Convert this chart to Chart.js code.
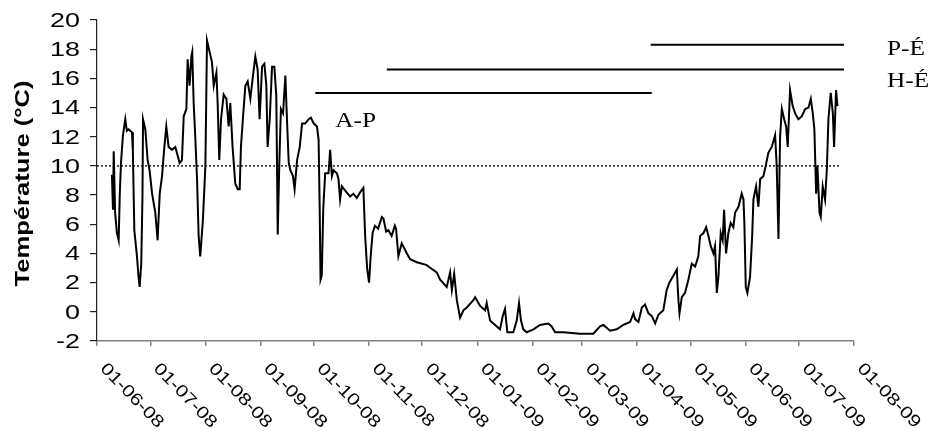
<!DOCTYPE html>
<html>
<head>
<meta charset="utf-8">
<script src="https://cdn.jsdelivr.net/npm/chart.js@4.4.1/dist/chart.umd.min.js"></script>
<style>
  html, body { margin: 0; padding: 0; background: #fff; }
</style>
</head>
<body>
<canvas id="tempChart" width="932" height="431"></canvas>
<script>
// Temperature record, x = days since 01-06-08
const days = [
  8.4, 9.0, 9.4, 10.2, 11.2, 12.2, 12.8, 13.5, 14.6, 15.9, 16.8, 17.8, 19.7, 20.2, 21.0, 22.5, 23.3, 24.0, 24.9, 25.6,
  25.9, 27.2, 28.5, 29.6, 31.0, 32.8, 34.1, 35.3, 36.6, 37.9, 39.0, 40.3, 42.2, 44.1, 46.5, 47.8, 48.8, 50.3, 51.0, 52.1,
  53.1, 53.6, 54.4, 55.3, 56.3, 57.2, 58.1, 59.6, 61.0, 61.9, 63.4, 64.7, 65.7, 67.2, 67.9, 68.8, 69.8, 71.3, 72.8, 74.1,
  75.0, 76.3, 77.8, 79.2, 80.3, 81.0, 82.2, 83.5, 84.8, 86.3, 87.8, 89.1, 90.4, 91.5, 92.9, 94.2, 95.3, 96.0, 97.2, 98.5,
  99.8, 100.9, 101.7, 102.6, 103.5, 104.7, 106.0, 106.9, 107.9, 108.8, 110.3, 111.2, 112.6, 114.1, 115.4, 117.2, 119.1, 120.4, 122.0, 123.8,
  124.7, 125.3, 125.8, 126.5, 127.3, 128.4, 130.3, 131.2, 132.2, 133.1, 135.0, 135.9, 136.8, 137.8, 139.7, 142.5, 144.3, 146.2, 148.1, 149.9,
  150.9, 152.0, 153.1, 154.0, 155.1, 156.4, 158.2, 160.3, 161.2, 162.7, 164.0, 165.8, 167.6, 168.3, 169.6, 171.5, 174.4, 176.2, 180.0, 185.6,
  186.5, 191.2, 193.1, 196.8, 198.7, 199.7, 201.0, 202.5, 204.3, 206.2, 208.1, 211.8, 212.8, 215.6, 218.4, 219.3, 221.2, 224.0, 226.8, 228.3,
  229.6, 230.9, 234.3, 236.2, 237.5, 238.6, 239.9, 241.8, 245.6, 249.3, 254.0, 255.9, 257.8, 262.4, 271.8, 279.3, 283.1, 285.0, 288.7, 292.5,
  296.2, 300.0, 301.9, 302.8, 304.7, 306.6, 308.4, 310.3, 312.2, 314.1, 315.9, 318.7, 320.6, 322.1, 324.0, 326.3, 327.2, 327.8, 329.1, 330.9,
  332.8, 334.7, 336.6, 338.4, 339.4, 341.3, 342.8, 344.1, 345.4, 346.9, 347.8, 348.8, 349.7, 351.0, 352.1, 352.9, 354.0, 355.3, 356.6, 358.1,
  359.1, 361.0, 362.8, 363.8, 364.3, 365.1, 366.0, 367.5, 368.7, 369.4, 370.9, 372.2, 373.2, 375.0, 376.3, 377.8, 379.7, 381.6, 382.5, 383.5,
  384.4, 385.4, 386.7, 387.8, 388.7, 390.0, 391.5, 392.9, 394.7, 396.6, 398.5, 400.4, 401.7, 402.8, 403.7, 404.7, 405.4, 406.6, 407.3, 408.4,
  409.7, 410.7, 411.6, 412.9, 414.1, 414.8, 415.9, 416.7
];
const temps = [
  9.4, 7.0, 11.0, 6.8, 5.4, 4.9, 8.0, 10.2, 12.1, 13.2, 12.4, 12.5, 12.3, 10.9, 5.6, 3.8, 2.5, 1.7, 3.3, 8.0,
  13.2, 12.5, 10.4, 9.7, 8.1, 6.8, 4.9, 8.1, 9.3, 11.3, 12.7, 11.3, 11.1, 11.3, 10.2, 10.4, 13.4, 13.9, 17.3, 15.5,
  17.5, 17.8, 14.3, 12.0, 9.1, 5.2, 3.8, 6.3, 10.0, 18.6, 17.8, 17.1, 15.5, 16.4, 14.3, 10.4, 13.2, 14.9, 14.6, 12.7,
  14.3, 11.3, 8.8, 8.4, 8.4, 11.3, 13.4, 15.5, 15.8, 14.6, 16.2, 17.5, 16.6, 13.2, 16.8, 17.0, 15.5, 11.3, 13.2, 16.8,
  16.8, 14.8, 5.3, 10.2, 13.9, 13.6, 16.2, 13.2, 10.2, 9.7, 9.3, 8.4, 10.4, 11.3, 12.9, 12.9, 13.2, 13.3, 12.9, 12.7,
  11.8, 7.2, 2.2, 2.5, 7.0, 9.5, 9.5, 11.1, 9.3, 9.7, 9.5, 9.1, 7.7, 8.6, 8.3, 7.9, 8.1, 7.8, 8.2, 8.5,
  5.2, 3.0, 2.0, 3.8, 5.4, 5.9, 5.7, 6.5, 6.4, 5.5, 5.6, 5.2, 5.9, 5.7, 3.8, 4.7, 4.0, 3.6, 3.4, 3.2,
  3.1, 2.7, 2.2, 1.7, 2.7, 1.5, 2.6, 0.8, -0.4, 0.1, 0.3, 0.8, 1.0, 0.4, 0.1, 0.6, -0.6, -0.9, -1.2, -0.3,
  0.2, -1.4, -1.4, -0.6, 0.6, -0.6, -1.2, -1.4, -1.2, -0.9, -0.8, -1.0, -1.4, -1.4, -1.5, -1.5, -1.0, -0.9, -1.3, -1.2,
  -0.9, -0.7, -0.1, -0.5, -0.7, 0.3, 0.5, -0.1, -0.3, -0.8, -0.2, 0.1, 1.5, 2.0, 2.4, 2.9, 0.8, -0.1, 1.0, 1.3,
  2.2, 3.3, 3.1, 3.8, 5.2, 5.4, 5.8, 5.2, 4.5, 4.0, 4.5, 1.3, 2.4, 5.4, 4.9, 7.0, 4.0, 5.4, 6.1, 5.8,
  6.8, 7.2, 8.1, 7.7, 6.1, 1.7, 1.3, 2.4, 5.2, 7.7, 8.6, 7.2, 9.1, 9.3, 10.0, 10.9, 11.3, 12.1, 10.0, 5.0,
  12.0, 13.9, 13.2, 12.7, 11.3, 15.2, 14.1, 13.6, 13.2, 13.4, 13.9, 14.0, 14.6, 13.6, 12.5, 8.1, 10.0, 6.8, 6.5, 8.6,
  7.7, 9.7, 13.2, 15.0, 13.6, 11.3, 15.2, 14.1
];

// x axis: first day of each month
const monthDays = [0, 30, 61, 92, 122, 153, 183, 214, 245, 273, 304, 334, 365, 395, 426];
const monthLabels = ['01-06-08', '01-07-08', '01-08-08', '01-09-08', '01-10-08', '01-11-08', '01-12-08',
  '01-01-09', '01-02-09', '01-03-09', '01-04-09', '01-05-09', '01-06-09', '01-07-09', '01-08-09'];

// dotted 10 °C reference
const refTemp = 10;
const refDays = [0, 418];

// period bars
const periodNames = ['A-P', 'H-É', 'P-É'];
const periodStart = [122.8, 163.1, 311.6];
const periodEnd = [312.2, 420.4, 420.4];
const periodLevel = [15.0, 16.6, 18.3];

const sx = 1.28; // the original text is drawn wide

const textPlugin = {
    id: 'axisText',
    afterDraw(chart) {
        const ctx = chart.ctx;
        const xs = chart.scales.x;
        const ys = chart.scales.y;
        ctx.save();
        ctx.fillStyle = '#000';

        // y tick labels
        ctx.font = '21px "Liberation Sans", Arial, sans-serif';
        ctx.textAlign = 'right';
        ctx.textBaseline = 'middle';
        ys.ticks.forEach(t => {
            ctx.save();
            ctx.translate(ys.right - 17, ys.getPixelForValue(t.value) + 1);
            ctx.scale(sx, 1);
            ctx.fillText(String(t.value), 0, 0);
            ctx.restore();
        });

        // x tick labels, slanted down to the right
        ctx.font = '17px "Liberation Sans", Arial, sans-serif';
        ctx.textAlign = 'left';
        ctx.textBaseline = 'top';
        monthDays.forEach((d, i) => {
            ctx.save();
            ctx.translate(xs.getPixelForValue(d) + 12, xs.top + 19);
            ctx.rotate(Math.PI * 46 / 180);
            ctx.scale(1.22, 1);
            ctx.fillText(monthLabels[i], 0, 0);
            ctx.restore();
        });

        // y axis title
        ctx.font = 'bold 20px "Liberation Sans", Arial, sans-serif';
        ctx.textAlign = 'center';
        ctx.textBaseline = 'middle';
        ctx.save();
        ctx.translate(23, (chart.chartArea.top + chart.chartArea.bottom) / 2 + 3);
        ctx.rotate(-Math.PI / 2);
        ctx.scale(sx, 1);
        ctx.fillText('Température (°C)', 0, 0);
        ctx.restore();

        // period names
        ctx.font = '22px "Liberation Serif", "Times New Roman", serif';
        ctx.textAlign = 'left';
        ctx.textBaseline = 'alphabetic';
        const put = (txt, x, y) => {
            ctx.save();
            ctx.translate(x, y);
            ctx.scale(1.15, 1);
            ctx.fillText(txt, 0, 0);
            ctx.restore();
        };
        put(periodNames[0], xs.getPixelForValue(periodStart[0]) + 20, ys.getPixelForValue(periodLevel[0]) + 34);
        put(periodNames[1], xs.getPixelForValue(periodEnd[1]) + 43, ys.getPixelForValue(periodLevel[1]) + 17);
        put(periodNames[2], xs.getPixelForValue(periodEnd[2]) + 43, ys.getPixelForValue(periodLevel[2]) + 10);
        ctx.restore();
    }
};

const datasets = [{
    data: days.map((d, i) => ({ x: d, y: temps[i] })),
    borderColor: '#000',
    borderWidth: 2,
    pointRadius: 0,
    tension: 0
}, {
    data: refDays.map(d => ({ x: d, y: refTemp })),
    borderColor: '#000',
    borderWidth: 1.3,
    borderDash: [2, 2],
    pointRadius: 0
}];
periodNames.forEach((name, i) => {
    datasets.push({
        data: [{ x: periodStart[i], y: periodLevel[i] }, { x: periodEnd[i], y: periodLevel[i] }],
        borderColor: '#000',
        borderWidth: 2,
        pointRadius: 0
    });
});

new Chart(document.getElementById('tempChart').getContext('2d'), {
    type: 'line',
    data: { datasets: datasets },
    plugins: [textPlugin],
    options: {
        responsive: false,
        animation: false,
        layout: { padding: { left: 90, right: 78, top: 20, bottom: 85 } },
        plugins: { legend: { display: false }, tooltip: { enabled: false } },
        scales: {
            x: {
                type: 'linear',
                min: 0,
                max: 426,
                afterBuildTicks: scale => { scale.ticks = monthDays.map(v => ({ value: v })); },
                ticks: { display: false },
                grid: { drawOnChartArea: false, drawTicks: true, tickLength: 5, color: '#808080', lineWidth: 1.5 },
                border: { display: true, color: '#808080', width: 1.5 }
            },
            y: {
                min: -2,
                max: 20,
                ticks: { display: false, stepSize: 2 },
                grid: { drawOnChartArea: false, drawTicks: true, tickLength: 7, color: '#222', lineWidth: 1.2 },
                border: { display: true, color: '#222', width: 1.2 }
            }
        }
    }
});
</script>
</body>
</html>
